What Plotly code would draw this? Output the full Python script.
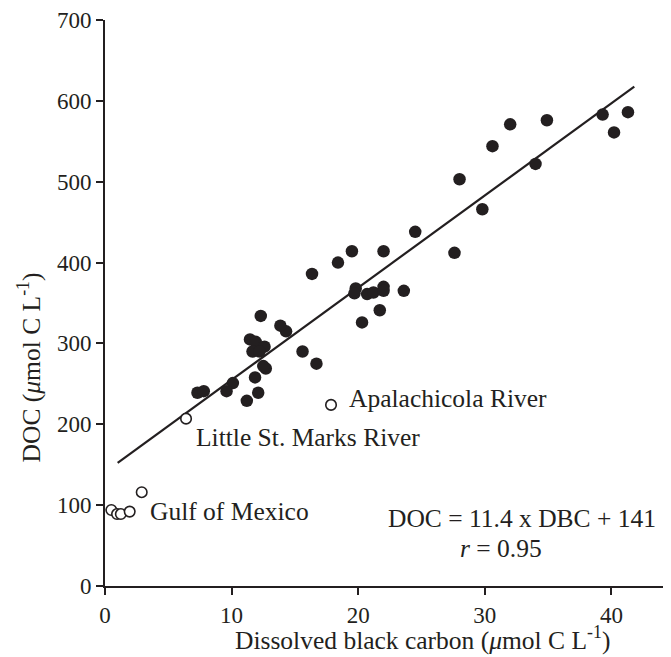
import plotly.graph_objects as go

# Filled points (DBC, DOC)
filled_x = [41.3, 39.3, 40.2, 34.9, 32.0, 30.6, 34.0, 28.0, 29.8, 24.5, 27.6,
            16.35, 18.4, 19.5, 22.0, 19.8, 19.7, 20.7, 21.2, 22.0, 22.0, 23.6,
            21.7, 20.3, 14.3, 15.6, 16.7, 12.3, 13.85, 11.45, 11.9, 11.65, 12.6,
            12.2, 12.7, 11.85, 10.1, 9.6, 7.3, 7.8, 12.1, 11.2, 12.5]
filled_y = [586, 583, 561, 576, 571, 544, 522, 503, 466, 438, 412,
            386, 400, 414, 414, 368, 362, 361, 363, 370, 365, 365,
            341, 326, 315, 290, 275, 334, 322, 305, 302, 290, 296,
            290, 269, 258, 251, 241, 239, 241, 239, 229, 272]

# Open points
open_x = [6.4, 17.85, 0.5, 0.95, 1.25, 1.95, 2.9]
open_y = [207, 224, 94, 89, 89, 92, 116]

slope = 11.4
intercept = 141
fit_x = [1.0, 41.8]
fit_y = [slope * v + intercept for v in fit_x]

x_ticks = [0, 10, 20, 30, 40]
y_ticks = [0, 100, 200, 300, 400, 500, 600, 700]

INK = "#231f20"
FONT = "Liberation Serif"
TXT = 25.5

fig = go.Figure()
fig.add_trace(go.Scatter(x=fit_x, y=fit_y, mode="lines",
                         line=dict(color=INK, width=2.2), showlegend=False))
fig.add_trace(go.Scatter(x=filled_x, y=filled_y, mode="markers",
                         marker=dict(size=12.5, color=INK, line=dict(width=0)),
                         showlegend=False))
fig.add_trace(go.Scatter(x=open_x, y=open_y, mode="markers",
                         marker=dict(size=10.5, color="white", line=dict(color=INK, width=1.6)),
                         showlegend=False))

annots = [
    dict(x=3.4, y=92, text="Gulf of Mexico", xanchor="left"),
    dict(x=7.0, y=184, text="Little St. Marks River", xanchor="left"),
    dict(x=19.1, y=232, text="Apalachicola River", xanchor="left"),
    dict(x=32.9, y=84, text="DOC = 11.4 x DBC + 141", xanchor="center"),
    dict(x=31.3, y=46, text="<i>r</i> = 0.95", xanchor="center"),
]
for a in annots:
    fig.add_annotation(x=a["x"], y=a["y"], text=a["text"], xanchor=a["xanchor"],
                       yanchor="middle", showarrow=False,
                       font=dict(family=FONT, size=TXT, color=INK))

# Axis titles (placed as in the reference, off-centre)
fig.add_annotation(xref="x", yref="paper", x=25.1, y=-0.093,
                   text="Dissolved black carbon (<i>μ</i>mol C L<sup>-1</sup>)",
                   xanchor="center", yanchor="middle", showarrow=False,
                   font=dict(family=FONT, size=TXT, color=INK))
fig.add_annotation(xref="paper", yref="y", x=-0.133, y=270,
                   text="DOC (<i>μ</i>mol C L<sup>-1</sup>)", textangle=-90,
                   xanchor="center", yanchor="middle", showarrow=False,
                   font=dict(family=FONT, size=TXT, color=INK))

fig.update_layout(
    width=663, height=649,
    margin=dict(l=97, r=0, t=10, b=71),
    paper_bgcolor="white", plot_bgcolor="white",
    font=dict(family=FONT, size=23, color=INK),
    xaxis=dict(range=[0, 44.7], tickvals=x_ticks, ticks="outside", ticklen=7,
               tickwidth=2, tickcolor=INK, showline=True, linecolor=INK, linewidth=2,
               showgrid=False, zeroline=False, ticklabeloverflow="allow",
               tickfont=dict(family=FONT, size=23, color=INK)),
    yaxis=dict(range=[0, 700], tickvals=y_ticks, ticks="outside", ticklen=7,
               tickwidth=2, tickcolor=INK, showline=True, linecolor=INK, linewidth=2,
               showgrid=False, zeroline=False, ticklabeloverflow="allow",
               tickfont=dict(family=FONT, size=23, color=INK)),
)

fig.write_html("out.html")
